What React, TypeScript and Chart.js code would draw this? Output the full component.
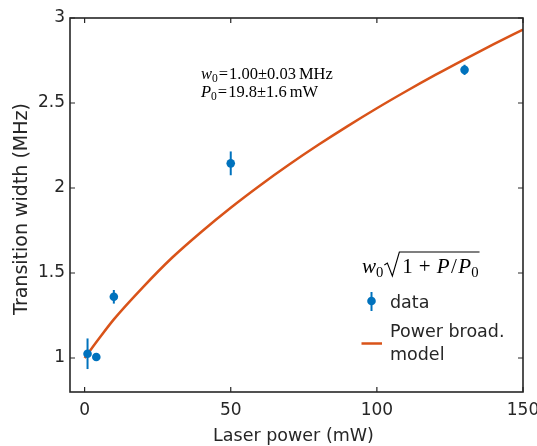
import React, { useEffect, useRef } from "react";
import { Chart, registerables } from "chart.js";

Chart.register(...registerables);

// Measured data
const dataPower = [1, 4, 10, 50, 130];
const dataWidth = [1.025, 1.006, 1.36, 2.145, 2.695];
const dataErr = [0.09, 0.02, 0.04, 0.07, 0.03];

// Fitted model curve
const modelPower = [0, 5, 10, 20, 30, 40, 50, 60, 70, 80, 90, 100, 110, 120, 130, 140, 150];
const modelWidth = [1.0, 1.116, 1.227, 1.417, 1.591, 1.743, 1.884, 2.015, 2.138, 2.254, 2.364, 2.469, 2.569, 2.665, 2.757, 2.846, 2.932];

const xTicks = [0, 50, 100, 150];
const yTicks = [1, 1.5, 2, 2.5, 3];

const xTitle = "Laser power (mW)";
const yTitle = "Transition width (MHz)";
const fitLines = [
  { sym: "w", sub: "0", val: "1.00±0.03", unit: "MHz" },
  { sym: "P", sub: "0", val: "19.8±1.6", unit: "mW" },
];
const legendLabels = ["data", "Power broad.", "model"];

const BLUE = "#0072BD";
const ORANGE = "#D95319";
const TXT = "#262626";
const SANS = "'DejaVu Sans', 'Liberation Sans', Arial, sans-serif";
const SERIF = "'Liberation Serif', 'DejaVu Serif', serif";

const errorBarPlugin = {
  id: "errbars",
  afterDatasetsDraw(chart: any) {
    const { ctx, scales } = chart;
    const x = scales.x, y = scales.y;
    ctx.save();
    ctx.strokeStyle = BLUE;
    ctx.lineWidth = 2;
    for (let i = 0; i < dataPower.length; i++) {
      const px = x.getPixelForValue(dataPower[i]);
      ctx.beginPath();
      ctx.moveTo(px, y.getPixelForValue(dataWidth[i] - dataErr[i]));
      ctx.lineTo(px, y.getPixelForValue(dataWidth[i] + dataErr[i]));
      ctx.stroke();
    }
    ctx.restore();
  },
};

const frameAndTextPlugin = {
  id: "frame",
  afterDraw(chart: any) {
    const { ctx, chartArea: a, scales } = chart;
    const x = scales.x, y = scales.y;
    ctx.save();
    // Box
    ctx.strokeStyle = TXT;
    ctx.lineWidth = 1.6;
    ctx.strokeRect(a.left, a.top, a.right - a.left, a.bottom - a.top);
    // inward ticks
    ctx.lineWidth = 1.2;
    const tl = 5;
    for (const v of xTicks) {
      const px = x.getPixelForValue(v);
      ctx.beginPath();
      ctx.moveTo(px, a.bottom); ctx.lineTo(px, a.bottom - tl);
      ctx.moveTo(px, a.top); ctx.lineTo(px, a.top + tl);
      ctx.stroke();
    }
    for (const v of yTicks) {
      const py = y.getPixelForValue(v);
      ctx.beginPath();
      ctx.moveTo(a.left, py); ctx.lineTo(a.left + tl, py);
      ctx.moveTo(a.right, py); ctx.lineTo(a.right - tl, py);
      ctx.stroke();
    }

    // Axis titles
    ctx.fillStyle = TXT;
    ctx.textAlign = "center";
    ctx.textBaseline = "alphabetic";
    ctx.font = `17.5px ${SANS}`;
    ctx.fillText(xTitle, (a.left + a.right) / 2 - 3, 441);
    ctx.save();
    ctx.font = `19px ${SANS}`;
    ctx.translate(27, (a.top + a.bottom) / 2 + 4);
    ctx.rotate(-Math.PI / 2);
    ctx.fillText(yTitle, 0, 0);
    ctx.restore();

    // Annotation text (fit results)
    ctx.fillStyle = "#000";
    ctx.textAlign = "left";
    const fs = 16.5;
    fitLines.forEach((ln, i) => {
      const by = 79 + i * 18;
      let cx = 201;
      ctx.font = `italic ${fs}px ${SERIF}`;
      ctx.fillText(ln.sym, cx, by);
      cx += ctx.measureText(ln.sym).width;
      ctx.font = `${fs * 0.7}px ${SERIF}`;
      ctx.fillText(ln.sub, cx, by + 3);
      cx += ctx.measureText(ln.sub).width + 1;
      ctx.font = `${fs}px ${SERIF}`;
      ctx.fillText("=", cx, by);
      cx += ctx.measureText("=").width + 1;
      ctx.fillText(ln.val, cx, by);
      cx += ctx.measureText(ln.val).width + 3;
      ctx.fillText(ln.unit, cx, by);
    });

    // Legend title: w0 sqrt(1 + P/P0)
    const ls = 21;
    const ty = 273;
    let cx = 362;
    ctx.font = `italic ${ls}px ${SERIF}`;
    ctx.fillText("w", cx, ty);
    cx += ctx.measureText("w").width;
    ctx.font = `${ls * 0.7}px ${SERIF}`;
    ctx.fillText("0", cx, ty + 4);
    cx += ctx.measureText("0").width + 1;
    const radStart = cx;
    const radTopX = cx + 15;
    let ix = radTopX + 3;
    ctx.font = `${ls}px ${SERIF}`;
    ctx.fillText("1", ix, ty);
    ix += ctx.measureText("1").width + 6;
    ctx.fillText("+", ix, ty);
    ix += ctx.measureText("+").width + 6;
    ctx.font = `italic ${ls}px ${SERIF}`;
    ctx.fillText("P", ix, ty);
    ix += ctx.measureText("P").width + 1.5;
    ctx.font = `${ls}px ${SERIF}`;
    ctx.fillText("/", ix, ty);
    ix += ctx.measureText("/").width + 1.5;
    ctx.font = `italic ${ls}px ${SERIF}`;
    ctx.fillText("P", ix, ty);
    ix += ctx.measureText("P").width;
    ctx.font = `${ls * 0.7}px ${SERIF}`;
    ctx.fillText("0", ix, ty + 4);
    ix += ctx.measureText("0").width + 1;
    ctx.strokeStyle = "#000";
    ctx.lineWidth = 1.1;
    ctx.beginPath();
    ctx.moveTo(radStart, ty - 8);
    ctx.lineTo(radStart + 3, ty - 10);
    ctx.lineTo(radStart + 8, ty + 3);
    ctx.lineTo(radTopX, ty - 21);
    ctx.lineTo(ix, ty - 21);
    ctx.stroke();

    // Legend entries
    ctx.fillStyle = TXT;
    ctx.font = `17.5px ${SANS}`;
    ctx.fillText(legendLabels[0], 390, 308);
    ctx.fillText(legendLabels[1], 390, 336.5);
    ctx.fillText(legendLabels[2], 390, 360);
    // data marker
    ctx.strokeStyle = BLUE;
    ctx.lineWidth = 2;
    ctx.beginPath();
    ctx.moveTo(371.5, 292); ctx.lineTo(371.5, 311);
    ctx.stroke();
    ctx.fillStyle = BLUE;
    ctx.beginPath();
    ctx.arc(371.5, 301, 4.3, 0, Math.PI * 2);
    ctx.fill();
    // line marker
    ctx.strokeStyle = ORANGE;
    ctx.lineWidth = 2.5;
    ctx.beginPath();
    ctx.moveTo(361.5, 343.5); ctx.lineTo(382, 343.5);
    ctx.stroke();

    ctx.restore();
  },
};

export default function App() {
  const ref = useRef<HTMLCanvasElement>(null);
  useEffect(() => {
    document.body.style.margin = "0";
    const canvas = ref.current!;
    const chart = new Chart(canvas, {
      type: "scatter",
      data: {
        datasets: [
          {
            type: "line",
            label: "Power broad. model",
            data: modelPower.map((p, i) => ({ x: p, y: modelWidth[i] })),
            borderColor: ORANGE,
            borderWidth: 2.5,
            pointRadius: 0,
            cubicInterpolationMode: "monotone",
            fill: false,
            order: 2,
          } as any,
          {
            label: "data",
            data: dataPower.map((p, i) => ({ x: p, y: dataWidth[i] })),
            backgroundColor: BLUE,
            borderColor: BLUE,
            pointRadius: 4.3,
            pointBorderWidth: 0,
            order: 1,
          },
        ],
      },
      options: {
        responsive: false,
        animation: false,
        devicePixelRatio: 1,
        layout: { padding: { top: 18, right: 14, left: 0, bottom: 0 } },
        plugins: { legend: { display: false }, tooltip: { enabled: false } },
        scales: {
          x: {
            type: "linear",
            min: -5,
            max: 150,
            grid: { display: false, drawTicks: false },
            border: { display: false },
            afterBuildTicks: (s: any) => { s.ticks = xTicks.map((v) => ({ value: v })); },
            afterFit: (s: any) => {
              s.height = 54;
              s.paddingLeft = 0; s.paddingRight = 0; s.paddingTop = 0; s.paddingBottom = 0;
            },
            ticks: {
              padding: 8,
              color: TXT,
              font: { family: SANS, size: 17 },
              callback: (v: any) => String(v),
              maxRotation: 0,
              autoSkip: false,
            },
          },
          y: {
            type: "linear",
            min: 0.8,
            max: 3,
            grid: { display: false, drawTicks: false },
            border: { display: false },
            afterBuildTicks: (s: any) => { s.ticks = yTicks.map((v) => ({ value: v })); },
            afterFit: (s: any) => {
              s.width = 70;
              s.paddingLeft = 0; s.paddingRight = 0; s.paddingTop = 0; s.paddingBottom = 0;
            },
            ticks: {
              padding: 5,
              color: TXT,
              font: { family: SANS, size: 17 },
              callback: (v: any) => String(v),
              autoSkip: false,
            },
          },
        },
      },
      plugins: [errorBarPlugin, frameAndTextPlugin],
    } as any);
    return () => chart.destroy();
  }, []);
  return <canvas ref={ref} width={537} height={446} style={{ display: "block" }} />;
}
